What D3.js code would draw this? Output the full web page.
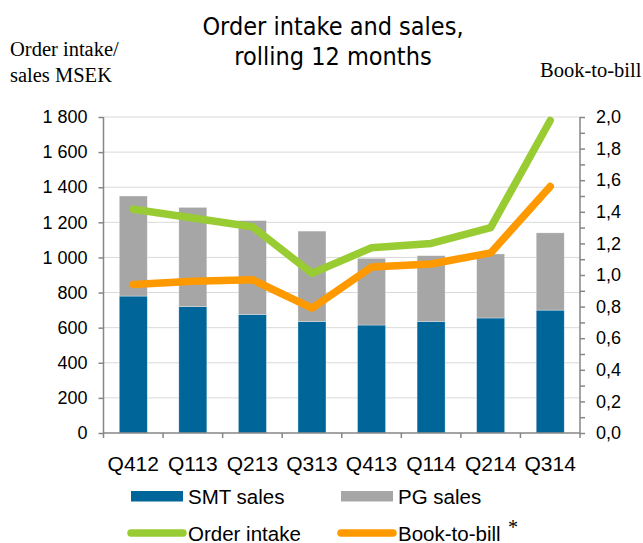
<!DOCTYPE html>
<html>
<head>
<meta charset="utf-8">
<script src="https://cdn.jsdelivr.net/npm/d3@7"></script>
<style>
  html, body { margin: 0; padding: 0; background: #ffffff; }
  svg { display: block; }
</style>
</head>
<body>
<script>
// ---- data ----
const quarters = ["Q412", "Q113", "Q213", "Q313", "Q413", "Q114", "Q214", "Q314"];
const smtSales = [780, 720, 675, 635, 615, 635, 655, 700];
const pgSales = [570, 565, 535, 515, 380, 375, 365, 440];
const orderIntake = [1275, 1225, 1175, 910, 1055, 1080, 1170, 1780];
const bookToBill = [0.94, 0.96, 0.97, 0.79, 1.05, 1.07, 1.14, 1.56];
const leftTicks = [0, 200, 400, 600, 800, 1000, 1200, 1400, 1600, 1800];
const rightTicks = [0, 0.2, 0.4, 0.6, 0.8, 1.0, 1.2, 1.4, 1.6, 1.8, 2.0];
const rightMinorTicks = [0.1, 0.3, 0.5, 0.7, 0.9, 1.1, 1.3, 1.5, 1.7, 1.9];

const W = 643, H = 543;
const M = { left: 103.5, right: 580, top: 117, bottom: 433 };

const colors = { smt: "#006699", pg: "#a6a6a6", oi: "#99cc33", btb: "#ff9900", axis: "#868686", grid: "#d9d9d9" };

const svg = d3.select("body").append("svg").attr("width", W).attr("height", H);

const x = d3.scaleBand().domain(quarters).range([M.left, M.right]).paddingInner(0).paddingOuter(0);
const yL = d3.scaleLinear().domain([0, 1800]).range([M.bottom, M.top]);
const yR = d3.scaleLinear().domain([0, 2]).range([M.bottom, M.top]);

const fmtL = v => d3.format(",")(v).replace(/,/g, " ");
const fmtR = v => d3.format(".1f")(v).replace(".", ",");

// grid
svg.append("g").selectAll("line").data(leftTicks.filter(d => d > 0)).join("line")
  .attr("x1", M.left).attr("x2", M.right)
  .attr("y1", d => yL(d)).attr("y2", d => yL(d))
  .attr("stroke", colors.grid).attr("stroke-width", 1);

// bars
const barW = x.bandwidth() * 0.47;
const rows = quarters.map((q, i) => ({ q, smt: smtSales[i], pg: pgSales[i] }));
const stack = d3.stack().keys(["smt", "pg"])(rows);
svg.append("g").selectAll("g").data(stack).join("g")
  .attr("fill", d => colors[d.key])
  .selectAll("rect").data(d => d).join("rect")
  .attr("x", d => x(d.data.q) + (x.bandwidth() - barW) / 2)
  .attr("width", barW)
  .attr("y", d => yL(d[1]))
  .attr("height", d => yL(d[0]) - yL(d[1]))
  .attr("stroke", "#ffffff").attr("stroke-width", 0.6).attr("stroke-opacity", 0.5);

// axes
const axL = svg.append("g").attr("transform", `translate(${M.left},0)`)
  .call(d3.axisLeft(yL).tickValues(leftTicks).tickFormat(fmtL).tickSize(5).tickPadding(11));
const axR = svg.append("g").attr("transform", `translate(${M.right},0)`)
  .call(d3.axisRight(yR).tickValues(rightTicks).tickFormat(fmtR).tickSize(5).tickPadding(11));
svg.append("g").attr("transform", `translate(${M.right},0)`)
  .call(d3.axisRight(yR).tickValues(rightMinorTicks).tickFormat("").tickSize(5))
  .call(g => g.select(".domain").remove());
const axB = svg.append("g").attr("transform", `translate(0,${M.bottom})`)
  .call(d3.axisBottom(x).tickSize(0).tickPadding(23));
// category boundary ticks
svg.append("g").selectAll("line").data(quarters.concat(["end"])).join("line")
  .attr("x1", (d, i) => M.left + i * x.bandwidth())
  .attr("x2", (d, i) => M.left + i * x.bandwidth())
  .attr("y1", M.bottom).attr("y2", M.bottom + 5)
  .attr("stroke", colors.axis).attr("stroke-width", 1.5);

svg.selectAll(".domain").attr("stroke", colors.axis).attr("stroke-width", 1.5);
svg.selectAll(".tick line").attr("stroke", colors.axis).attr("stroke-width", 1.5);
axL.selectAll("text").attr("font-family", "Liberation Sans, Arial, sans-serif").attr("font-size", 18).attr("fill", "#000");
axR.selectAll("text").attr("font-family", "Liberation Sans, Arial, sans-serif").attr("font-size", 18).attr("fill", "#000");
axB.selectAll("text").attr("font-family", "Liberation Sans, Arial, sans-serif").attr("font-size", 21).attr("fill", "#000");
axB.select(".domain").attr("d", `M${M.left},0H${M.right}`);
axL.select(".domain").attr("d", `M0,${M.top}V${M.bottom}`);
axR.select(".domain").attr("d", `M0,${M.top}V${M.bottom}`);

// lines
const cx = q => x(q) + x.bandwidth() / 2;
const lineOI = d3.line().x((d, i) => cx(quarters[i])).y(d => yL(d));
const lineBTB = d3.line().x((d, i) => cx(quarters[i])).y(d => yR(d));
svg.append("path").datum(orderIntake).attr("d", lineOI)
  .attr("fill", "none").attr("stroke", colors.oi).attr("stroke-width", 7.5)
  .attr("stroke-linecap", "round").attr("stroke-linejoin", "round");
svg.append("path").datum(bookToBill).attr("d", lineBTB)
  .attr("fill", "none").attr("stroke", colors.btb).attr("stroke-width", 7.5)
  .attr("stroke-linecap", "round").attr("stroke-linejoin", "round");

// title
const title = svg.append("text").attr("text-anchor", "middle")
  .attr("font-family", "DejaVu Sans Condensed, DejaVu Sans, sans-serif").attr("font-size", 25).attr("fill", "#000");
title.append("tspan").attr("x", 333).attr("y", 35).text("Order intake and sales,");
title.append("tspan").attr("x", 333).attr("y", 65).text("rolling 12 months");

// axis titles
const serif = "Liberation Serif, Times New Roman, serif";
svg.append("text").attr("x", 10).attr("y", 56).attr("font-family", serif).attr("font-size", 20.5).text("Order intake/");
svg.append("text").attr("x", 10).attr("y", 82).attr("font-family", serif).attr("font-size", 20.5).text("sales MSEK");
svg.append("text").attr("x", 540).attr("y", 77).attr("font-family", serif).attr("font-size", 20.5).text("Book-to-bill");

// legend
const legFont = "Liberation Sans, Arial, sans-serif";
const leg = svg.append("g");
const legendItems = [
  { label: "SMT sales", type: "rect", color: colors.smt, x: 131, y: 496 },
  { label: "PG sales", type: "rect", color: colors.pg, x: 341, y: 496 },
  { label: "Order intake", type: "line", color: colors.oi, x: 131, y: 533 },
  { label: "Book-to-bill", type: "line", color: colors.btb, x: 341, y: 533 }
];
legendItems.forEach(it => {
  if (it.type === "rect") {
    leg.append("rect").attr("x", it.x).attr("y", it.y - 5).attr("width", 52).attr("height", 10.5).attr("fill", it.color);
  } else {
    leg.append("line").attr("x1", it.x).attr("x2", it.x + 52).attr("y1", it.y).attr("y2", it.y)
      .attr("stroke", it.color).attr("stroke-width", 7.5).attr("stroke-linecap", "round");
  }
  leg.append("text").attr("x", it.x + 57).attr("y", it.y + 7.5)
    .attr("font-family", legFont).attr("font-size", 20.5).attr("fill", "#000").text(it.label);
});
leg.append("text").attr("x", 508).attr("y", 534).attr("font-family", serif).attr("font-size", 20).attr("fill", "#000").text("*");
</script>
</body>
</html>
